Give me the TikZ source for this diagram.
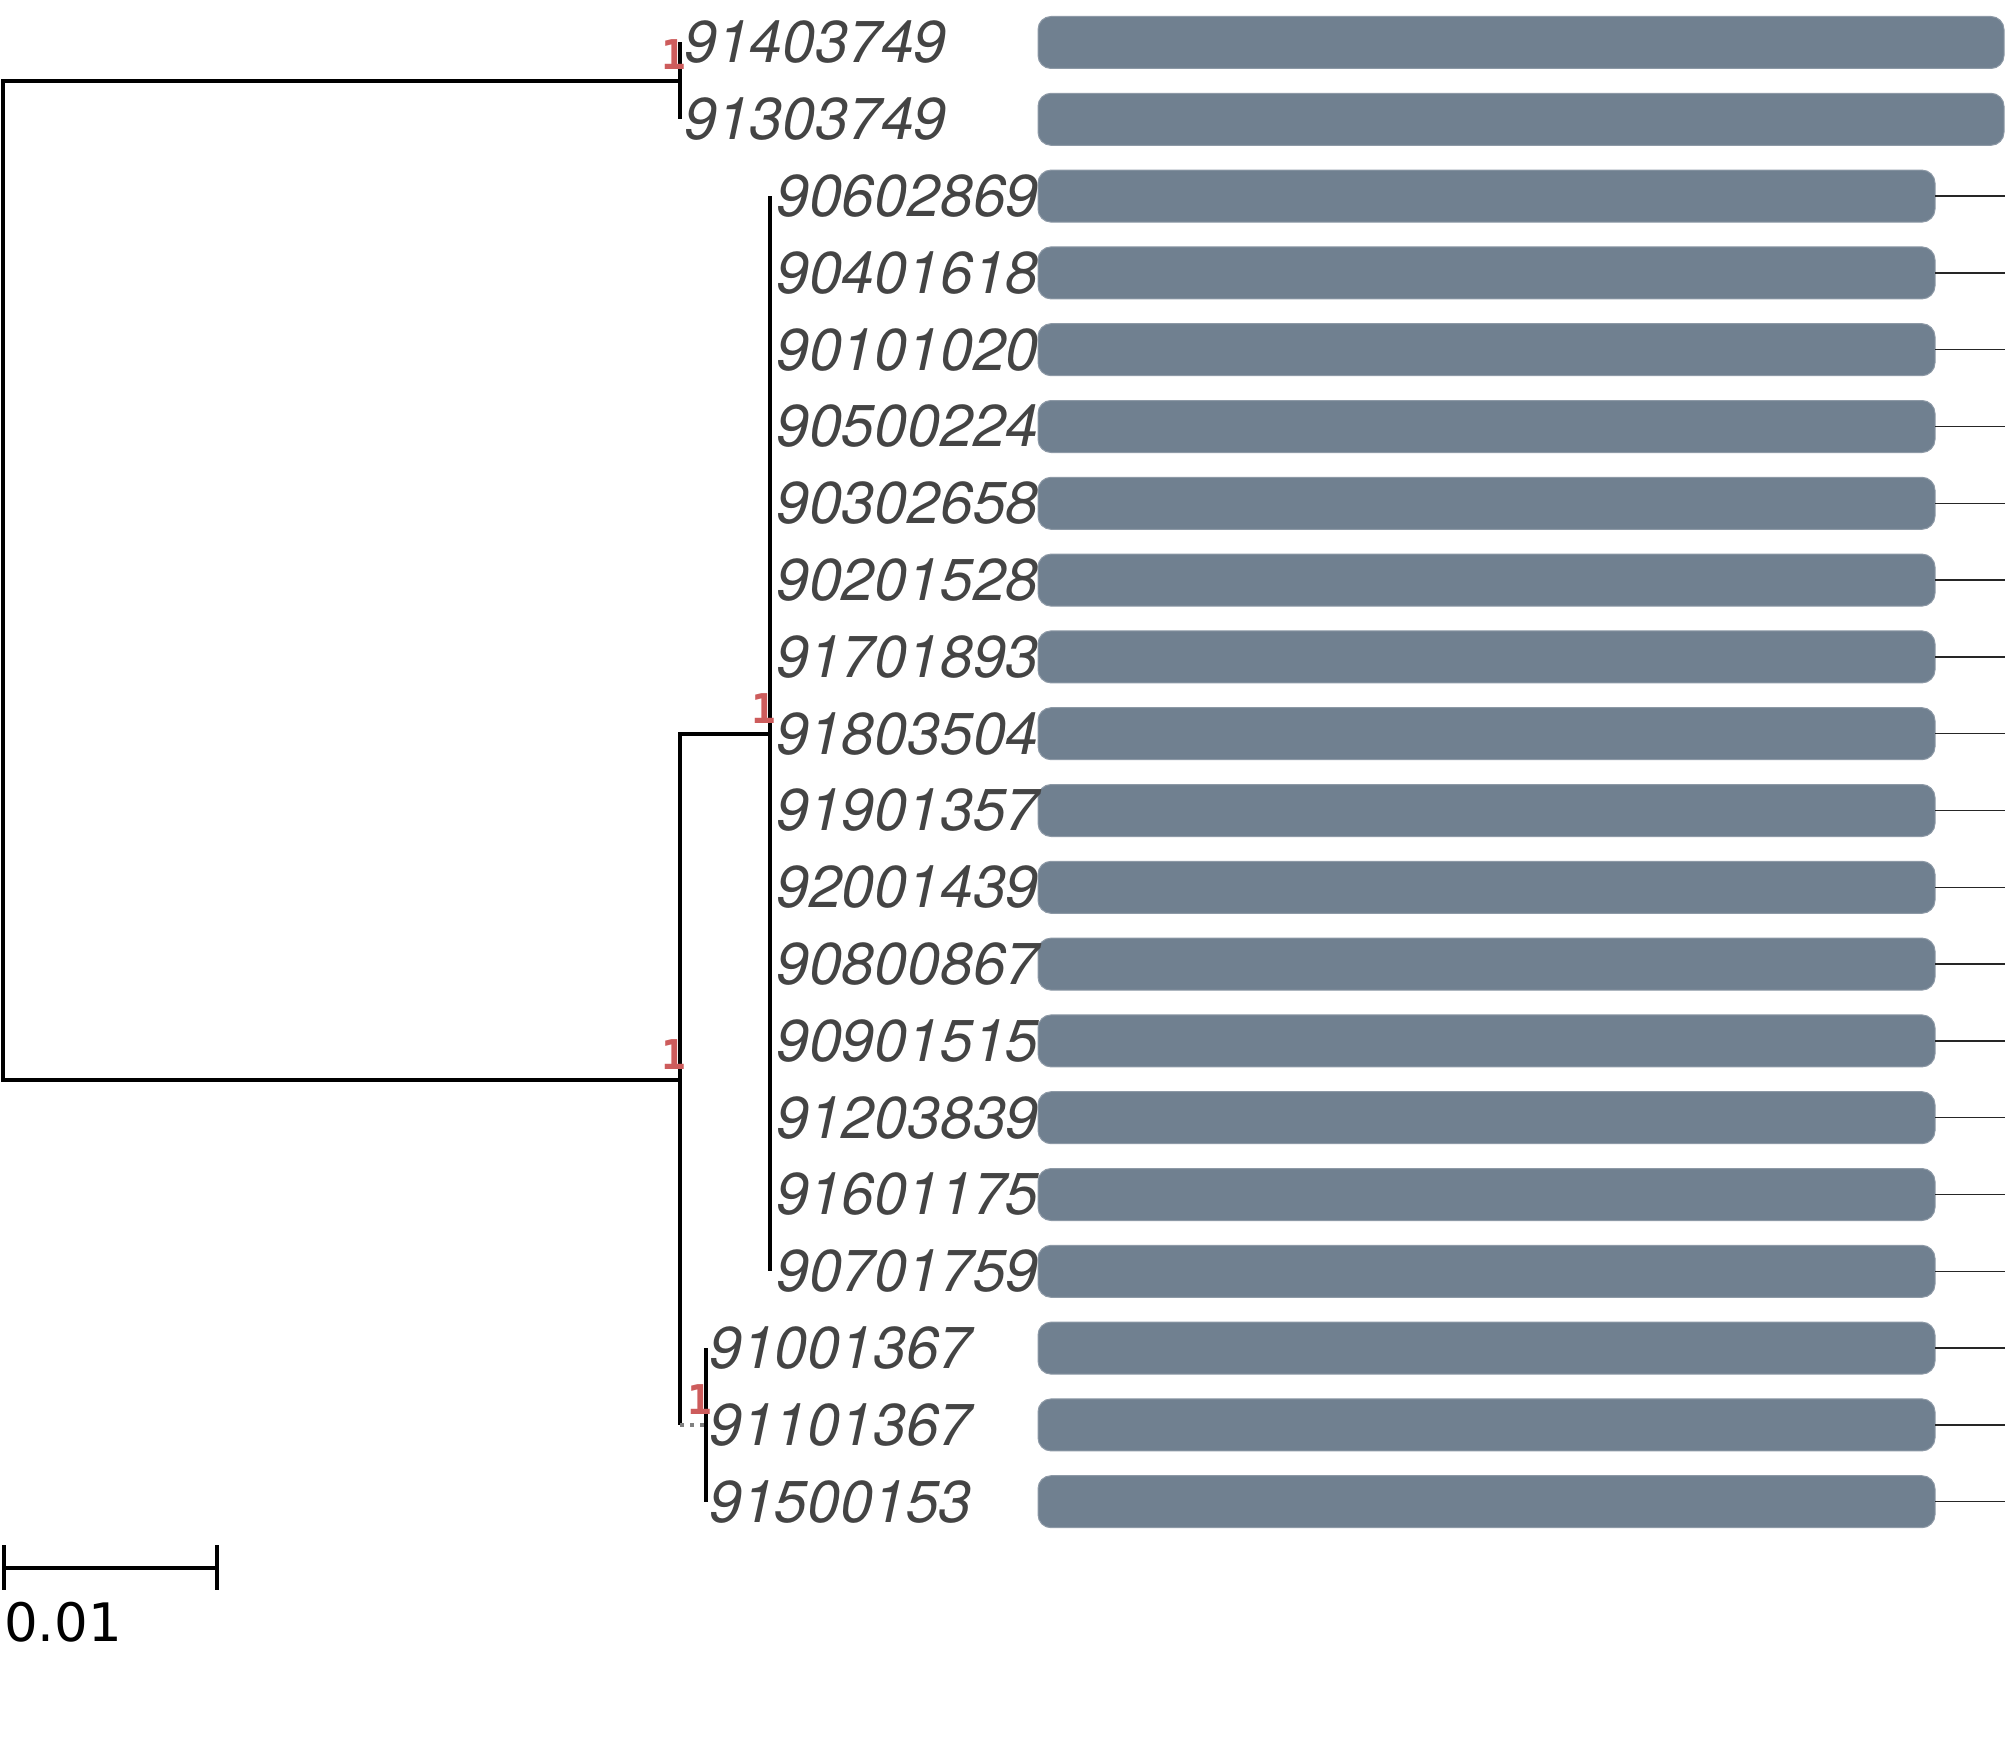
\documentclass[tikz,border=0pt]{standalone}
\usepackage{fontspec}
\setmainfont{TeX Gyre Heros}
\newfontfamily\labfont{TeX Gyre Heros}
\newfontfamily\scalefont{DejaVu Sans}
\newfontfamily\supfont{DejaVu Sans Mono}
\definecolor{barslate}{RGB}{112,128,144}
\definecolor{labgray}{RGB}{68,68,68}
\definecolor{suppred}{RGB}{205,92,92}
\begin{document}
\begin{tikzpicture}[x=1pt,y=-1pt,
  branch/.style={line width=4pt, black},
  leaflab/.style={anchor=west, inner sep=0pt, text=labgray, font=\labfont\itshape\fontsize{59}{59}\selectfont},
  support/.style={anchor=south east, inner sep=0pt, text=suppred, font=\supfont\bfseries\fontsize{41}{41}\selectfont},
  bar/.style={fill=barslate, draw=barslate!80!white, line width=1pt, rounded corners=13pt},
  tail/.style={line width=1.5pt, black!85},
  scaletxt/.style={anchor=north west, inner sep=0pt, text=black, font=\scalefont\fontsize{53}{53}\selectfont}
]
\useasboundingbox (0,0) rectangle (2007,1760);
% tree node coordinates
\coordinate (root-top) at (3,81);
\coordinate (root-low) at (3,1080);
\coordinate (ntop) at (680,81);
\coordinate (nlow) at (680,1080);
\coordinate (nbig) at (770,733.7);
\coordinate (nbigL) at (680,733.7);
\coordinate (nsmall) at (706,1424.9);
\coordinate (nsmallL) at (680,1424.9);
% root
\draw[branch] (ntop) -- (root-top) -- (root-low) -- (nlow);
% top clade
\draw[branch] (680,42.5) -- (680,119.3);
% lower clade
\draw[branch] (nbig) -- (nbigL) -- (nsmallL);
\draw[gray, line width=4pt, dash pattern=on 4pt off 6pt] (nsmallL) -- (nsmall);
% big clade
\draw[branch] (770,196.1) -- (770,1271.3);
% small clade
\draw[branch] (706,1348.1) -- (706,1501.7);
% support values
\node[support] (s1) at (686,70) {1};
\node[support] (s2) at (686,1070) {1};
\node[support] (s3) at (776,724) {1};
\node[support] (s4) at (712,1415) {1};
% leaves
\foreach \lab/\xx [count=\i] in {91403749/684,91303749/684,
  90602869/776,90401618/776,90101020/776,90500224/776,90302658/776,90201528/776,
  91701893/776,91803504/776,91901357/776,92001439/776,90800867/776,90901515/776,
  91203839/776,91601175/776,90701759/776,
  91001367/709,91101367/709,91500153/709}{
  \pgfmathsetmacro{\yy}{42.5+76.8*(\i-1)}
  \ifnum\i<3
    \fill[bar] (1038,\yy-26) rectangle (2004,\yy+26);
  \else
    \fill[bar] (1038,\yy-26) rectangle (1935,\yy+26);
    \draw[tail] (1935,\yy) -- (2005,\yy);
  \fi
  \node[leaflab] (leaf\i) at (\xx,\yy) {\lab};
}
% scale bar
\draw[line width=3.5pt] (4,1545) -- (4,1590);
\draw[line width=3.5pt] (217,1545) -- (217,1590);
\draw[line width=3.5pt] (4,1568) -- (217,1568);
\node[scaletxt] (scale) at (4,1602) {0.01};
\end{tikzpicture}
\end{document}
